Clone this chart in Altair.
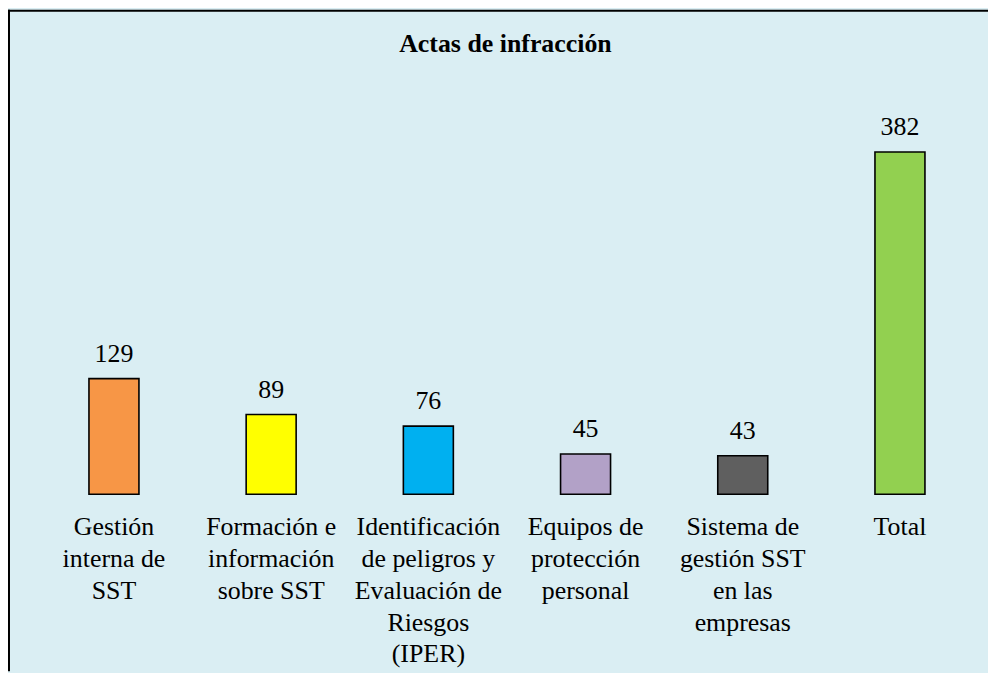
import altair as alt
import pandas as pd

title_text = "Actas de infracción"
categories = [
    "Gestión interna de SST",
    "Formación e información sobre SST",
    "Identificación de peligros y Evaluación de Riesgos (IPER)",
    "Equipos de protección personal",
    "Sistema de gestión SST en las empresas",
    "Total",
]
label_lines = [
    "Gestión\ninterna de\nSST",
    "Formación e\ninformación\nsobre SST",
    "Identificación\nde peligros y\nEvaluación de\nRiesgos\n(IPER)",
    "Equipos de\nprotección\npersonal",
    "Sistema de\ngestión SST\nen las\nempresas",
    "Total",
]
values = [129, 89, 76, 45, 43, 382]
colors = ["#F79646", "#FFFF00", "#00B0F0", "#B2A1C7", "#5F5F5F", "#92D050"]

W, H = 985, 665
FONT = "Liberation Serif, Times New Roman, DejaVu Serif, serif"
BG = "#DAEEF3"

df = pd.DataFrame({
    "cat": categories,
    "label": label_lines,
    "value": values,
    "base": [0] * len(values),
})

x = alt.X("cat:N", sort=categories, axis=None,
          scale=alt.Scale(range=[0, 1003], paddingInner=0.682, paddingOuter=0.515))
yscale = alt.Scale(domain=[-197.6, 540.8], nice=False, zero=False)

base = alt.Chart(df)

bars = base.mark_bar(stroke="black", strokeWidth=1.6).encode(
    x=x,
    y=alt.Y("value:Q", scale=yscale, axis=None),
    y2=alt.Y2("base:Q"),
    color=alt.Color("cat:N", scale=alt.Scale(domain=categories, range=colors), legend=None),
)

vals = base.mark_text(font=FONT, fontSize=26, color="black", baseline="alphabetic",
                      align="center", dy=-17).encode(
    x=x,
    y=alt.Y("value:Q", scale=yscale, axis=None),
    text=alt.Text("value:Q"),
)

cats = base.mark_text(font=FONT, fontSize=26, color="black", baseline="alphabetic",
                      align="center", dy=41, lineBreak="\n", lineHeight=32).encode(
    x=x,
    y=alt.Y("base:Q", scale=yscale, axis=None),
    text=alt.Text("label:N"),
)

title = alt.Chart(pd.DataFrame({"t": [title_text]})).mark_text(
    font=FONT, fontSize=26, fontWeight="bold", color="black",
    baseline="alphabetic", align="center"
).encode(x=alt.value(500), y=alt.value(43), text="t:N")

border_top = alt.Chart(pd.DataFrame({"a": [0]})).mark_rule(color="black", strokeWidth=2).encode(
    x=alt.value(0), x2=alt.value(W), y=alt.value(1)
)
border_left = alt.Chart(pd.DataFrame({"a": [0]})).mark_rule(color="black", strokeWidth=2).encode(
    x=alt.value(1), y=alt.value(0), y2=alt.value(H)
)

chart = alt.layer(bars, vals, cats, title, border_top, border_left).properties(
    width=W, height=H, background=BG, padding=0,
    autosize=alt.AutoSizeParams(type="none"),
).configure_view(stroke=None, fill=BG)

chart.save("out.html", embed_options={"renderer": "svg", "actions": False})
